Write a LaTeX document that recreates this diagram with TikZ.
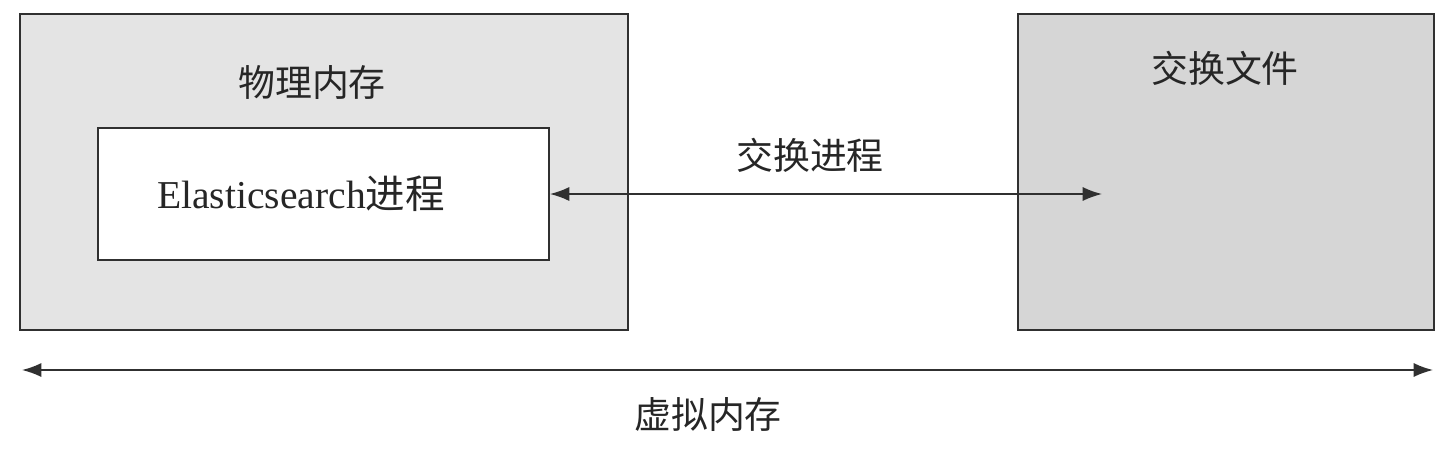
\documentclass[tikz,border=0pt]{standalone}
\usepackage{fontspec}
\setmainfont{Liberation Serif}
\newfontfamily\cjk{Noto Sans CJK SC}
\usepackage{tikz}
\usetikzlibrary{positioning,arrows.meta}
\definecolor{memgray}{HTML}{E4E4E4}
\definecolor{swapgray}{HTML}{D6D6D6}
\definecolor{linegray}{HTML}{303030}
\tikzset{
	memory box/.style={
		rectangle,
		draw=linegray,
		line width=1.1pt,
		inner sep=0pt
	},
	label text/.style={
		font=\fontsize{21}{25}\selectfont\cjk,
		text=black!85
	},
	swap arrow/.style={
		draw=linegray,
		line width=0.9pt,
		{Latex[length=11pt,width=8pt]}-{Latex[length=11pt,width=8pt]}
	}
}
\begin{document}
\begin{tikzpicture}[x=0.02cm,y=-0.02cm]
		\useasboundingbox (0,0) rectangle (1455,464);
		% boxes
		\node[memory box,fill=memgray,minimum width=12.16cm,minimum height=6.32cm] (phys) at (324,172) {};
		\node[memory box,fill=white,minimum width=9.02cm,minimum height=2.64cm] (es) at (323.5,194) {};
		\node[memory box,fill=swapgray,minimum width=8.32cm,minimum height=6.32cm] (swap) at (1226,172) {};
		% texts
		\node[label text] (physlabel) at (312,83) {物理内存};
		\node[label text,font=\fontsize{22.5}{26}\selectfont] (eslabel) at (301,194) {Elasticsearch{\cjk 进程}};
		\node[label text] (swaplabel) at (1225,68) {交换文件};
		\node[label text] (swapproc) at (810,155) {交换进程};
		\node[label text] (virtlabel) at (708,415) {虚拟内存};
		% arrows
		\coordinate (swapin) at (1102,194);
		\coordinate (virtleft) at (22,370);
		\coordinate (virtright) at (1433,370);
		\draw[swap arrow] (es.east) -- (swapin);
		\draw[swap arrow] (virtleft) -- (virtright);
	\end{tikzpicture}
\end{document}
